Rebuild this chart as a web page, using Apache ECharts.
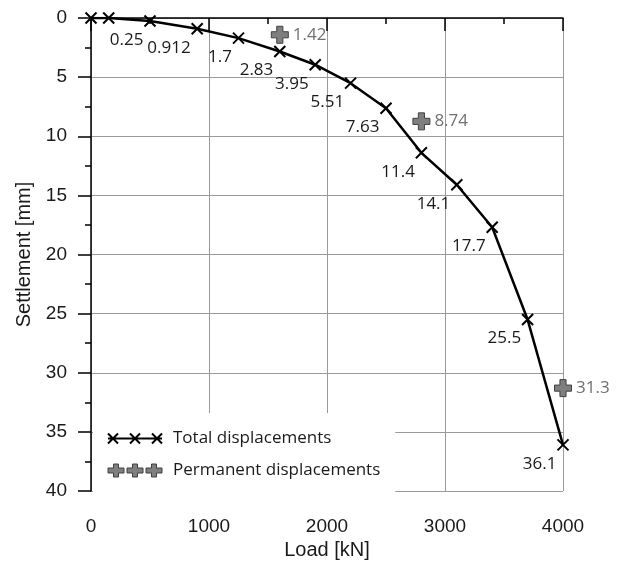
<!DOCTYPE html>
<html>
<head>
<meta charset="utf-8">
<script src="https://cdn.jsdelivr.net/npm/echarts@6/dist/echarts.min.js"></script>
<style>
  html, body { margin: 0; padding: 0; background: #fff; }
  #chart { width: 622px; height: 563px; }
</style>
</head>
<body>
<div id="chart"></div>
<script>
// load steps [kN]
const loads = [0, 150, 500, 900, 1250, 1600, 1900, 2200, 2500, 2800, 3100, 3400, 3700, 4000]
// total settlement [mm]
const totalSettlement = [0, 0, 0.25, 0.912, 1.7, 2.83, 3.95, 5.51, 7.63, 11.4, 14.1, 17.7, 25.5, 36.1]
// permanent settlement after unloading
const permLoads = [1600, 2800, 4000]
const permSettlement = [1.42, 8.74, 31.3]

const xTicks = [0, 1000, 2000, 3000, 4000]
const yTicks = [0, 5, 10, 15, 20, 25, 30, 35, 40]

const X_SYMBOL = 'path://M0,0L10,10M10,0L0,10'
const PLUS_SYMBOL = 'path://M3.2,0H6.8V3.2H10V6.8H6.8V10H3.2V6.8H0V3.2H3.2Z'
const X_LEGEND = 'path://M0,0L10,10M10,0L0,10M22,0L32,10M32,0L22,10M44,0L54,10M54,0L44,10M0,5L54,5'
const PLUS_LEGEND = 'path://M5.5,0H10.5V4H16V9H10.5V13H5.5V9H0V4H5.5Z M24.5,0H29.5V4H35V9H29.5V13H24.5V9H19V4H24.5Z M43.5,0H48.5V4H54V9H48.5V13H43.5V9H38V4H43.5Z'

const AXIS_FAMILY = "'Liberation Sans', Arial, sans-serif"
const tickFont = { fontFamily: AXIS_FAMILY, fontSize: 19, color: '#1a1a1a' }
const nameFont = { fontFamily: AXIS_FAMILY, fontSize: 20, color: '#1a1a1a' }
const gridLine = { show: true, lineStyle: { color: '#9a9a9a', width: 1 } }

const chart = echarts.init(document.getElementById('chart'))

chart.setOption({
  animation: false,
  grid: { left: 91, right: 59, top: 18, bottom: 72, outerBoundsMode: 'none', containLabel: false },
  xAxis: {
    type: 'value',
    min: xTicks[0],
    max: xTicks[xTicks.length - 1],
    interval: 1000,
    name: 'Load [kN]',
    nameLocation: 'middle',
    nameGap: 48,
    nameTextStyle: nameFont,
    axisLine: { lineStyle: { color: '#000', width: 1.5 } },
    axisTick: { length: 13, lineStyle: { color: '#000', width: 1.5 } },
    minorTick: { show: true, splitNumber: 2, length: 6, lineStyle: { color: '#000', width: 1.5 } },
    axisLabel: { ...tickFont, margin: 26, formatter: v => String(v) },
    splitLine: gridLine
  },
  yAxis: {
    type: 'value',
    inverse: true,
    min: yTicks[0],
    max: yTicks[yTicks.length - 1],
    interval: 5,
    name: 'Settlement [mm]',
    nameLocation: 'middle',
    nameGap: 56,
    nameTextStyle: nameFont,
    axisLine: { onZero: false, lineStyle: { color: '#000', width: 1.5 } },
    axisTick: { length: 13, lineStyle: { color: '#000', width: 1.5 } },
    minorTick: { show: true, splitNumber: 2, length: 6, lineStyle: { color: '#000', width: 1.5 } },
    axisLabel: { ...tickFont, margin: 24, formatter: v => String(v) },
    splitLine: gridLine
  },
  legend: {
    orient: 'vertical',
    left: 93,
    top: 413,
    padding: [17, 15, 24, 14],
    itemGap: 15,
    itemWidth: 54,
    itemHeight: 13,
    backgroundColor: '#fff',
    textStyle: { fontFamily: 'Open Sans', fontSize: 17, color: '#1a1a1a', padding: [0, 0, 0, 6] },
    data: [
      { name: 'Total displacements', icon: X_LEGEND, itemStyle: { color: '#000', borderColor: '#000', borderWidth: 2 } },
      { name: 'Permanent displacements', icon: PLUS_LEGEND, itemStyle: { color: '#7f7f7f', borderColor: '#404040', borderWidth: 1 } }
    ]
  },
  series: [
    {
      name: 'Total displacements',
      type: 'line',
      data: loads.map((x, i) => [x, totalSettlement[i]]),
      symbol: X_SYMBOL,
      symbolSize: 11,
      showAllSymbol: true,
      lineStyle: { color: '#000', width: 2.5 },
      itemStyle: { color: '#000', borderColor: '#000', borderWidth: 2 },
      label: {
        show: true,
        position: 'left',
        distance: 2,
        offset: [2, 19],
        fontFamily: 'Open Sans',
        fontSize: 17,
        color: '#1a1a1a',
        formatter: p => (p.value[1] === 0 ? '' : String(p.value[1]))
      },
      z: 3
    },
    {
      name: 'Permanent displacements',
      type: 'scatter',
      data: permLoads.map((x, i) => [x, permSettlement[i]]),
      symbol: PLUS_SYMBOL,
      symbolSize: 17,
      itemStyle: { color: '#7f7f7f', borderColor: '#404040', borderWidth: 1, opacity: 1 },
      label: {
        show: true,
        position: 'right',
        distance: 4,
        fontFamily: 'Open Sans',
        fontSize: 17,
        color: '#707070',
        formatter: p => String(p.value[1])
      },
      z: 4
    }
  ]
})
</script>
</body>
</html>
